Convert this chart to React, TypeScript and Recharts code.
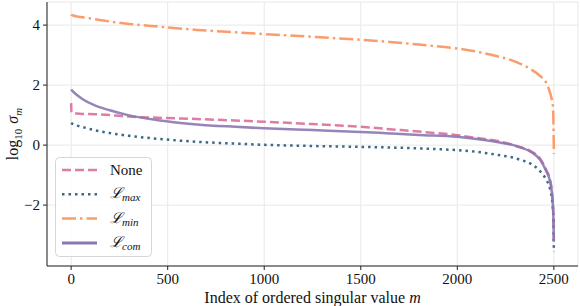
import React from 'react';
import { LineChart, Line, XAxis, YAxis, CartesianGrid } from 'recharts';

const indices = [0, 2, 10, 30, 60, 120, 200, 300, 450, 650, 850, 1000, 1250, 1500, 1650, 1800, 2000, 2120, 2220, 2290, 2330, 2380, 2430, 2460, 2480, 2490, 2495, 2498, 2500];
const noneVals = [1.40, 1.10, 1.06, 1.05, 1.04, 1.03, 1.00, 0.95, 0.91, 0.87, 0.82, 0.78, 0.70, 0.61, 0.53, 0.45, 0.33, 0.22, 0.12, 0.00, -0.08, -0.20, -0.46, -0.82, -1.15, -1.55, -2.00, -2.50, -3.20];
const maxVals = [0.74, 0.73, 0.70, 0.65, 0.60, 0.50, 0.40, 0.31, 0.21, 0.11, 0.05, 0.01, -0.03, -0.06, -0.08, -0.11, -0.17, -0.24, -0.34, -0.42, -0.50, -0.62, -0.88, -1.15, -1.45, -1.80, -2.10, -2.60, -3.56];
const minVals = [4.35, 4.34, 4.32, 4.29, 4.26, 4.20, 4.12, 4.04, 3.95, 3.84, 3.76, 3.70, 3.61, 3.51, 3.44, 3.35, 3.22, 3.09, 2.94, 2.81, 2.70, 2.53, 2.30, 2.08, 1.75, 1.50, 1.30, 0.70, -0.30];
const comVals = [1.86, 1.84, 1.78, 1.67, 1.53, 1.33, 1.16, 0.99, 0.83, 0.69, 0.61, 0.56, 0.50, 0.44, 0.39, 0.34, 0.28, 0.19, 0.09, 0.00, -0.08, -0.22, -0.50, -0.86, -1.20, -1.60, -2.00, -2.50, -3.22];

const xTicks = [0, 500, 1000, 1500, 2000, 2500];
const yTicks = [-2, 0, 2, 4];

const seriesNames = ['None', 'max', 'min', 'com'];
const colors = { none: '#df7ca4', lmax: '#3b6a85', lmin: '#fc9c6b', lcom: '#8b78b0' };

const data = indices.map((m, i) => ({ m, none: noneVals[i], lmax: maxVals[i], lmin: minVals[i], lcom: comVals[i] }));

const FONT = '"Liberation Serif", "DejaVu Serif", serif';

const fmt = (v: number) => (v < 0 ? '\u2212' + Math.abs(v) : String(v));

const XLabel = (props: any) => {
  const vb = props.viewBox || { x: 47, y: 266, width: 531, height: 0 };
  return (
    <text x={vb.x + vb.width / 2} y={vb.y + 37} textAnchor="middle" fontFamily={FONT} fontSize={16} fill="#111">
      Index of ordered singular value <tspan fontStyle="italic">m</tspan>
    </text>
  );
};

const YLabel = (props: any) => {
  const vb = props.viewBox || { x: 0, y: 2, width: 47, height: 264 };
  const cx = 18;
  const cy = vb.y + vb.height / 2;
  return (
    <text x={cx} y={cy} transform={`rotate(-90, ${cx}, ${cy})`} textAnchor="middle" fontFamily={FONT} fontSize={16} fill="#111">
      log<tspan fontSize={11} dy={4}>10</tspan>
      <tspan dy={-4} dx={5} fontStyle="italic">σ</tspan>
      <tspan fontSize={11} dy={4} fontStyle="italic">m</tspan>
    </text>
  );
};

const legendItems = [
  { key: 'none', label: seriesNames[0], dash: '9 4', width: 2.5 },
  { key: 'lmax', label: seriesNames[1], dash: '2.5 4', width: 2.5 },
  { key: 'lmin', label: seriesNames[2], dash: '14 4 2.5 4', width: 2.5 },
  { key: 'lcom', label: seriesNames[3], dash: undefined, width: 3 },
];

const LegendBox = () => (
  <svg width={97} height={100} style={{ display: 'block' }}>
    <rect x={0.5} y={0.5} width={96} height={99} rx={4} ry={4} fill="rgba(255,255,255,0.85)" stroke="#d6d6d6" strokeWidth={1} />
    {legendItems.map((it, i) => {
      const y = 13 + i * 24.3;
      return (
        <g key={it.key}>
          <line x1={7} x2={42} y1={y} y2={y} stroke={(colors as any)[it.key]} strokeWidth={it.width} strokeDasharray={it.dash} />
          {i === 0 ? (
            <text x={55} y={y + 5} fontFamily={FONT} fontSize={15} fill="#111">{it.label}</text>
          ) : (
            <text x={55} y={y + 4} fontFamily={FONT} fontSize={15} fill="#111">
              <tspan fontStyle="italic">ℒ</tspan>
              <tspan fontSize={11} dy={3} fontStyle="italic">{it.label}</tspan>
            </text>
          )}
        </g>
      );
    })}
  </svg>
);

export default function App() {
  return (
    <div style={{ position: 'absolute', left: 0, top: 0, width: 580, height: 306 }}>
      <LineChart width={580} height={306} data={data} margin={{ top: 2, right: 2, left: 0, bottom: 0 }}>
        <CartesianGrid stroke="#e8e8e8" strokeWidth={1} vertical horizontal />
        <XAxis
          dataKey="m"
          type="number"
          domain={[-125, 2625]}
          ticks={xTicks}
          tickFormatter={fmt}
          height={40}
          tickSize={4}
          tickMargin={3}
          axisLine={{ stroke: '#222' }}
          tickLine={{ stroke: '#222' }}
          tick={{ fontFamily: FONT, fontSize: 15, fill: '#111' }}
          allowDataOverflow
          label={<XLabel />}
        />
        <XAxis xAxisId="top" orientation="top" type="number" domain={[-125, 2625]} height={0} tick={false} tickLine={false} axisLine={{ stroke: '#222' }} />
        <YAxis
          type="number"
          domain={[-4.03, 4.77]}
          ticks={yTicks}
          tickFormatter={fmt}
          width={47}
          tickSize={4}
          tickMargin={3}
          axisLine={{ stroke: '#222' }}
          tickLine={{ stroke: '#222' }}
          tick={{ fontFamily: FONT, fontSize: 15, fill: '#111' }}
          allowDataOverflow
          label={<YLabel />}
        />
        <YAxis yAxisId="right" orientation="right" type="number" domain={[-4.03, 4.77]} width={0} tick={false} tickLine={false} axisLine={{ stroke: '#222' }} />
        <Line type="monotone" dataKey="none" stroke={colors.none} strokeWidth={2.5} strokeDasharray="9 4" dot={false} isAnimationActive={false} />
        <Line type="monotone" dataKey="lmax" stroke={colors.lmax} strokeWidth={2.5} strokeDasharray="2.5 4" dot={false} isAnimationActive={false} />
        <Line type="monotone" dataKey="lmin" stroke={colors.lmin} strokeWidth={2.5} strokeDasharray="14 4 2.5 4" dot={false} isAnimationActive={false} />
        <Line type="monotone" dataKey="lcom" stroke={colors.lcom} strokeWidth={2.5} strokeOpacity={0.9} dot={false} isAnimationActive={false} />
      </LineChart>
      <div style={{ position: 'absolute', left: 55, top: 157, width: 97, height: 100 }}>
        <LegendBox />
      </div>
    </div>
  );
}
